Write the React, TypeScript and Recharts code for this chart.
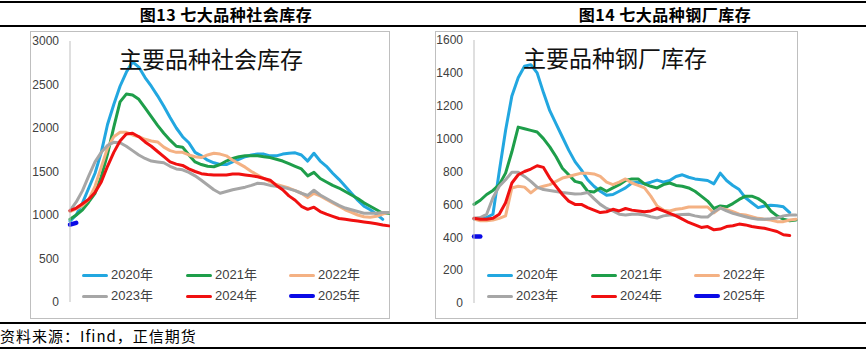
import React from 'react';
import { LineChart, Line, XAxis, YAxis, Legend } from 'recharts';

const WEEKS = Array.from({ length: 52 }, (_, i) => i + 1);
const YEARS = ['2020年', '2021年', '2022年', '2023年', '2024年', '2025年'];
const COLORS = ['#22a7e0', '#1e9e4a', '#f4b183', '#a6a6a6', '#f01010', '#0a0ae6'];

const SOCIAL_TITLE = '主要品种社会库存';
const MILL_TITLE = '主要品种钢厂库存';
const SOCIAL_TICKS = [0, 500, 1000, 1500, 2000, 2500, 3000];
const MILL_TICKS = [0, 200, 400, 600, 800, 1000, 1200, 1400, 1600];

const SOCIAL_2020 = [930, 1000, 1140, 1310, 1480, 1720, 2040, 2270, 2480, 2640, 2760, 2700, 2580, 2480, 2370, 2250, 2120, 2000, 1900, 1830, 1720, 1680, 1630, 1600, 1580, 1580, 1610, 1640, 1670, 1690, 1700, 1700, 1680, 1680, 1700, 1710, 1715, 1690, 1620, 1710, 1620, 1560, 1480, 1410, 1330, 1250, 1170, 1100, 1060, 1010, 950, null];
const SOCIAL_2021 = [950, 1000, 1060, 1150, 1250, 1440, 1700, 2010, 2300, 2390, 2380, 2330, 2230, 2130, 2030, 1940, 1860, 1790, 1780, 1690, 1610, 1580, 1560, 1555, 1580, 1620, 1650, 1670, 1680, 1680, 1680, 1670, 1660, 1640, 1620, 1590, 1560, 1530, 1450, 1490, 1420, 1380, 1340, 1310, 1270, 1230, 1190, 1140, 1100, 1060, 1020, 1020];
const SOCIAL_2022 = [1040, 1070, 1110, 1180, 1330, 1550, 1770, 1900, 1950, 1950, 1920, 1900, 1870, 1850, 1840, 1780, 1740, 1720, 1720, 1690, 1670, 1660, 1690, 1710, 1700, 1680, 1630, 1590, 1550, 1500, 1460, 1420, 1380, 1350, 1330, 1310, 1280, 1250, 1200, 1250, 1220, 1180, 1140, 1100, 1060, 1030, 1000, 980, 975, 985, 1010, 1030];
const SOCIAL_2023 = [1050, 1150, 1280, 1450, 1610, 1720, 1800, 1835, 1830, 1790, 1740, 1690, 1650, 1620, 1610, 1600, 1560, 1530, 1520, 1490, 1450, 1400, 1345, 1290, 1250, 1270, 1290, 1305, 1320, 1340, 1365, 1360, 1340, 1330, 1320, 1300, 1280, 1250, 1225, 1285, 1230, 1190, 1150, 1110, 1080, 1060, 1040, 1020, 1020, 1020, 1030, 1030];
const SOCIAL_2024 = [1050, 1080, 1130, 1180, 1260, 1380, 1560, 1720, 1850, 1930, 1940, 1900, 1840, 1790, 1730, 1670, 1610, 1585, 1570, 1530, 1500, 1475, 1465, 1460, 1460, 1460, 1470, 1470, 1460, 1450, 1440, 1420, 1400, 1340, 1290, 1220, 1170, 1100, 1065, 1090, 1040, 1010, 985, 960, 950, 940, 930, 920, 910, 900, 885, 875];
const SOCIAL_2025 = [890, 910];

const MILL_2020 = [510, 515, 520, 540, 800, 1050, 1260, 1370, 1440, 1450, 1400, 1280, 1170, 1090, 1010, 930, 860, 810, 750, 710, 680, 655, 660, 680, 700, 730, 735, 725, 735, 748, 735, 745, 770, 780, 765, 755, 750, 745, 725, 790, 745, 715, 690, 640, 610, 580, 590, 595, 592, 585, 550, null];
const MILL_2021 = [600, 625, 660, 685, 720, 790, 920, 1070, 1060, 1050, 1040, 1000, 950, 890, 820, 780, 740, 730, 680, 675, 700, 680, 700, 720, 745, 755, 755, 725, 710, 700, 720, 730, 715, 710, 700, 680, 650, 620, 575, 590, 585, 605, 630, 650, 650, 635, 610, 560, 530, 510, 500, 505];
const MILL_2022 = [510, 500, 500, 505, 515, 530, 700, 710, 705, 670, 700, 710, 720, 740, 760, 770, 780, 790, 790, 785, 770, 735, 720, 735, 755, 730, 715, 700, 650, 590, 565, 560, 570, 575, 584, 584, 584, 584, 548, 578, 568, 555, 540, 535, 525, 515, 510, 505, 495, 495, 505, 510];
const MILL_2023 = [515, 520, 540, 640, 710, 750, 795, 795, 770, 740, 705, 690, 685, 678, 672, 668, 663, 665, 672, 635, 600, 575, 560, 540, 535, 540, 540, 535, 525, 517, 530, 535, 535, 538, 540, 530, 523, 523, 555, 578, 560, 545, 535, 525, 515, 510, 510, 512, 517, 530, 535, 535];
const MILL_2024 = [515, 510, 510, 515, 540, 610, 730, 780, 800, 815, 835, 825, 760, 710, 660, 620, 600, 600, 580, 565, 550, 555, 570, 560, 575, 565, 560, 555, 560, 575, 560, 545, 530, 510, 490, 475, 460, 465, 445, 450, 465, 470, 480, 475, 465, 460, 455, 445, 435, 415, 410, null];
const MILL_2025 = [405, 405];

function buildRows(series: (number | null)[][]) {
  return WEEKS.map((w, i) => {
    const row: Record<string, number | null> = { week: w };
    series.forEach((s, k) => {
      row[YEARS[k]] = i < s.length ? s[i] : null;
    });
    return row;
  });
}

const socialRows = buildRows([SOCIAL_2020, SOCIAL_2021, SOCIAL_2022, SOCIAL_2023, SOCIAL_2024, SOCIAL_2025]);
const millRows = buildRows([MILL_2020, MILL_2021, MILL_2022, MILL_2023, MILL_2024, MILL_2025]);

const CJK = "'Noto Sans CJK SC', sans-serif";
const LATIN = "'Liberation Sans', 'Noto Sans CJK SC', sans-serif";
const COL_X = [52, 156, 259];

const LegendContent = (props: any) => {
  const payload = props.payload || [];
  return (
    <div style={{ position: 'relative', width: 340, height: 40 }}>
      {payload.map((p: any, i: number) => {
        const col = i % 3;
        const row = Math.floor(i / 3);
        const is25 = p.value === '2025年';
        return (
          <div
            key={p.value}
            style={{
              position: 'absolute',
              left: COL_X[col],
              top: row * 21,
              height: 16,
              display: 'flex',
              alignItems: 'center',
              whiteSpace: 'nowrap',
            }}
          >
            <div style={{ width: 26, height: is25 ? 4 : 3, background: p.color, borderRadius: 2 }} />
            <span style={{ marginLeft: 3, fontSize: 13, color: '#404040', fontFamily: LATIN, lineHeight: '16px' }}>
              {p.value}
            </span>
          </div>
        );
      })}
    </div>
  );
};

function Panel(props: {
  rows: any[];
  ticks: number[];
  max: number;
  left: number;
  width: number;
  yWidth: number;
  margin: { top: number; right: number; bottom: number; left: number };
}) {
  const { rows, ticks, max, left, width, yWidth, margin } = props;
  return (
    <div style={{ position: 'absolute', left, top: 31 }}>
      <LineChart width={width} height={288} data={rows} margin={margin}>
        <XAxis dataKey="week" type="number" domain={[1, 52]} hide />
        <YAxis
          type="number"
          domain={[0, max]}
          ticks={ticks}
          width={yWidth}
          axisLine={{ stroke: '#bfbfbf', strokeWidth: 1 }}
          tickLine={false}
          tickMargin={5}
          tick={{ fill: '#404040', fontSize: 12, fontFamily: LATIN }}
          interval={0}
        />
        <Legend
          layout="horizontal"
          verticalAlign="middle"
          align="center"
          content={<LegendContent />}
          wrapperStyle={{ left: 0, top: 236, width: 340, height: 40 }}
        />
        {YEARS.map((y, k) => (
          <Line
            key={y}
            type="linear"
            dataKey={y}
            name={y}
            stroke={COLORS[k]}
            strokeWidth={k === 5 ? 4.5 : 3}
            strokeLinecap="round"
            strokeLinejoin="round"
            dot={false}
            activeDot={false}
            isAnimationActive={false}
          />
        ))}
      </LineChart>
    </div>
  );
}

const hline = (top: number): React.CSSProperties => ({
  position: 'absolute',
  left: 0,
  top,
  width: 866,
  height: 2,
  background: '#000',
});

const headerStyle = (left: number): React.CSSProperties => ({
  position: 'absolute',
  left,
  top: 4,
  width: 220,
  height: 20,
  lineHeight: '20px',
  textAlign: 'center',
  fontFamily: CJK,
  fontWeight: 700,
  fontSize: 16,
  letterSpacing: 0.5,
  color: '#000',
  whiteSpace: 'nowrap',
});

export default function App() {
  return (
    <div style={{ position: 'absolute', left: 0, top: 0, width: 866, height: 352, background: '#fff', overflow: 'hidden' }}>
      <div style={hline(1)} />
      <div style={hline(25)} />
      <div style={headerStyle(116)}>图13 七大品种社会库存</div>
      <div style={headerStyle(555)}>图14 七大品种钢厂库存</div>

      <div style={{ position: 'absolute', left: 30, top: 31, width: 360, height: 288, border: '1px solid #bfbfbf', boxSizing: 'border-box' }} />
      <div style={{ position: 'absolute', left: 435, top: 31, width: 363, height: 288, border: '1px solid #bfbfbf', boxSizing: 'border-box' }} />

      <Panel rows={socialRows} ticks={SOCIAL_TICKS} max={3000} left={30} width={360} yWidth={40} margin={{ top: 10, right: 1, bottom: 17, left: 0 }} />
      <Panel rows={millRows} ticks={MILL_TICKS} max={1600} left={435} width={363} yWidth={39} margin={{ top: 9, right: 2, bottom: 16, left: 0 }} />

      <div style={{ position: 'absolute', left: 111, top: 43, width: 200, height: 30, lineHeight: '30px', textAlign: 'center', fontFamily: CJK, fontSize: 23, color: '#111', whiteSpace: 'nowrap' }}>
        {SOCIAL_TITLE}
      </div>
      <div style={{ position: 'absolute', left: 515, top: 42, width: 200, height: 30, lineHeight: '30px', textAlign: 'center', fontFamily: CJK, fontSize: 23, color: '#111', whiteSpace: 'nowrap' }}>
        {MILL_TITLE}
      </div>

      <div style={hline(322)} />
      <div style={{ position: 'absolute', left: 0, top: 327, height: 18, lineHeight: '18px', fontFamily: CJK, fontSize: 15, letterSpacing: 1, color: '#000', whiteSpace: 'nowrap' }}>
        资料来源：Ifind，正信期货
      </div>
      <div style={hline(347)} />
    </div>
  );
}
